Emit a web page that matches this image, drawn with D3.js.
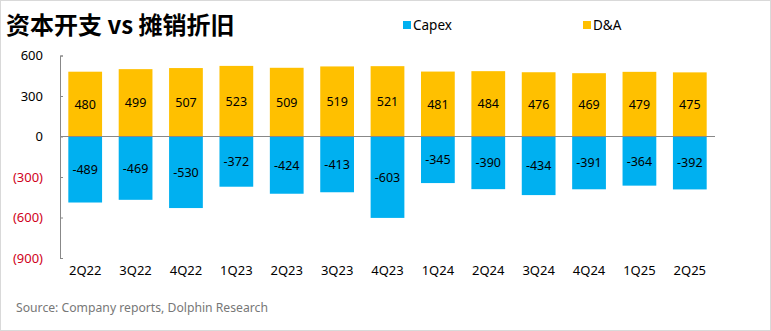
<!DOCTYPE html>
<html><head><meta charset="utf-8">
<script src="https://cdn.jsdelivr.net/npm/d3@7"></script>
<style>body{margin:0;background:#fff;}svg{display:block;}</style>
</head><body>
<svg id="c" width="771" height="331"></svg>
<script>
const categories = ["2Q22","3Q22","4Q22","1Q23","2Q23","3Q23","4Q23","1Q24","2Q24","3Q24","4Q24","1Q25","2Q25"];
const capex = [-489,-469,-530,-372,-424,-413,-603,-345,-390,-434,-391,-364,-392];
const da = [480,499,507,523,509,519,521,481,484,476,469,479,475];
const yTicks = [600,300,0,-300,-600,-900];

const svg = d3.select("#c");
const font = "'Noto Sans','Noto Sans CJK SC',sans-serif";
svg.append("rect").attr("x",0.5).attr("y",0.5).attr("width",770).attr("height",330)
  .attr("fill","#fff").attr("stroke","#d9d9d9");

const x = d3.scaleBand().domain(categories).range([60,715]).paddingInner(0.33).paddingOuter(0.165);
const y = d3.scaleLinear().domain([-900,600]).range([258,55.5]);

svg.append("text").attr("x",6).attr("y",34).attr("font-family","'Noto Sans CJK SC',sans-serif")
  .attr("font-weight","bold").attr("font-size",24).attr("fill","#000").text("资本开支 vs 摊销折旧");

// legend
const leg = [{n:"Capex",c:"#00b0f0",x:403},{n:"D&A",c:"#ffc000",x:583}];
leg.forEach(l=>{
  svg.append("rect").attr("x",l.x).attr("y",21).attr("width",8).attr("height",8).attr("fill",l.c);
  svg.append("text").attr("x",l.x+10).attr("y",29.5).attr("font-family",font).attr("font-size",13.5).attr("fill","#000").text(l.n);
});

// bars
const g = svg.append("g");
g.selectAll(".da").data(da).join("rect").attr("x",(d,i)=>x(categories[i])).attr("width",x.bandwidth())
  .attr("y",d=>y(d)).attr("height",d=>y(0)-y(d)).attr("fill","#ffc000");
g.selectAll(".cx").data(capex).join("rect").attr("x",(d,i)=>x(categories[i])).attr("width",x.bandwidth())
  .attr("y",y(0)).attr("height",d=>y(d)-y(0)).attr("fill","#00b0f0");

// labels
g.selectAll(".dal").data(da).join("text").attr("x",(d,i)=>x(categories[i])+x.bandwidth()/2)
  .attr("y",d=>(y(d)+y(0))/2+4.5).attr("text-anchor","middle").attr("font-family",font).attr("font-size",12.5).attr("fill","#000").text(d=>d);
g.selectAll(".cxl").data(capex).join("text").attr("x",(d,i)=>x(categories[i])+x.bandwidth()/2)
  .attr("y",d=>(y(d)+y(0))/2+4.5).attr("text-anchor","middle").attr("font-family",font).attr("font-size",12.5).attr("fill","#000").text(d=>d);

// y axis
const yAxis = d3.axisLeft(y).tickValues(yTicks).tickSize(-3).tickPadding(17)
  .tickFormat(d=> d<0 ? "("+d3.format(",")(-d)+")" : d3.format(",")(d));
const ya = svg.append("g").attr("transform","translate(60,0)").call(yAxis);
ya.select(".domain").attr("stroke","#888");
ya.selectAll(".tick line").attr("stroke","#888");
ya.selectAll(".tick text").attr("font-family",font).attr("font-size",13)
  .attr("fill",d=>d<0?"#d0021b":"#000");

// zero line
svg.append("line").attr("x1",60).attr("x2",715).attr("y1",y(0)).attr("y2",y(0)).attr("stroke","#888");

// x axis labels
const xAxis = d3.axisBottom(x).tickSize(0).tickPadding(0);
const xa = svg.append("g").attr("transform","translate(0,266)").call(xAxis);
xa.select(".domain").remove();
xa.selectAll(".tick text").attr("font-family",font).attr("font-size",13).attr("fill","#000");

svg.append("text").attr("x",16).attr("y",312).attr("font-family",font).attr("font-size",12.2)
  .attr("fill","#777").text("Source: Company reports, Dolphin Research");
</script>
</body></html>
